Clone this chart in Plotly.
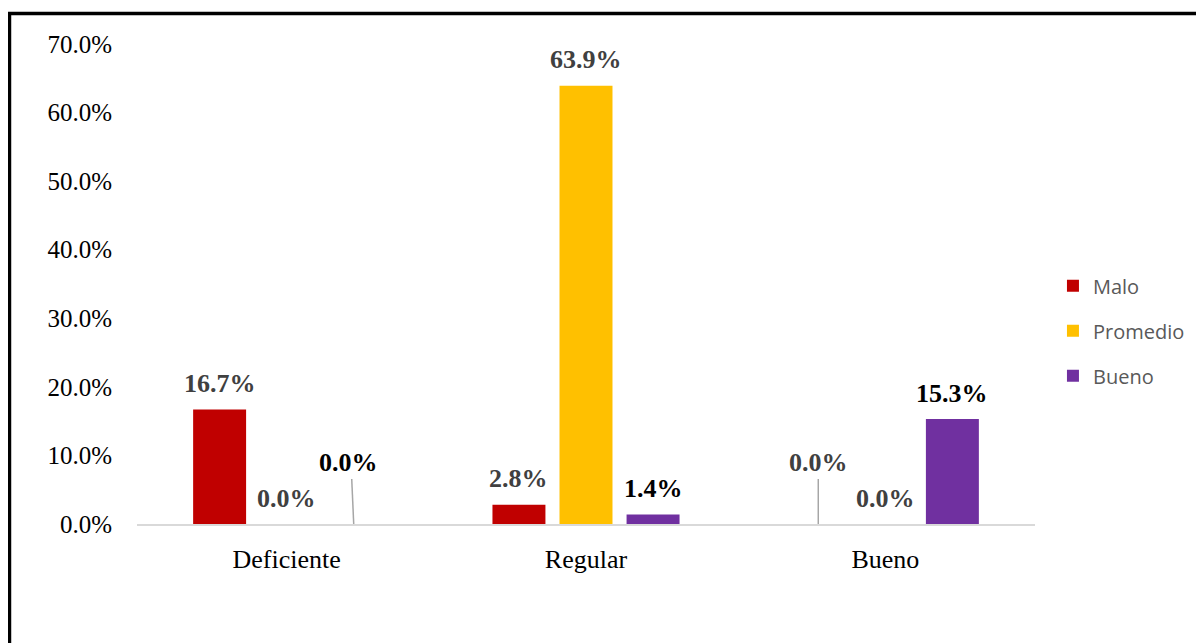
import plotly.graph_objects as go

categories = ["Deficiente", "Regular", "Bueno"]
series_names = ["Malo", "Promedio", "Bueno"]
malo = [16.7, 2.8, 0.0]
promedio = [0.0, 63.9, 0.0]
bueno = [0.0, 1.4, 15.3]
y_ticks = [0, 10, 20, 30, 40, 50, 60, 70]

colors = ["#C00000", "#FFC000", "#7030A0"]
label_colors = ["#404040", "#404040", "#000000"]
# labels pulled up with a leader line: (series index, category index)
leader_labels = {(2, 0), (0, 2)}

SERIF = "Liberation Serif, Times New Roman, serif"
BARGAP = 0.328
slot = (1 - BARGAP) / 3

fig = go.Figure()

for s, (name, vals) in enumerate(zip(series_names, [malo, promedio, bueno])):
    fig.add_trace(go.Bar(x=categories, y=vals, name=name, marker_color=colors[s],
                         marker_line_width=0, legendgroup=name))

annotations = []
shapes = []
for s, vals in enumerate([malo, promedio, bueno]):
    for c, v in enumerate(vals):
        xpos = c + (s - 1) * slot
        leader = (s, c) in leader_labels
        annotations.append(dict(x=xpos, y=v, xref="x", yref="y", text=f"<b>{v:.1f}%</b>",
                                showarrow=False, yanchor="middle", yshift=62 if leader else 26,
                                xshift=-5 if (s, c) == (2, 0) else 0,
                                font=dict(family=SERIF, size=26, color=label_colors[s])))
        if leader:
            shapes.append(dict(type="line", xref="x", yref="y", xsizemode="pixel", ysizemode="pixel",
                               xanchor=xpos, yanchor=v, x0=0, y0=0, x1=-2 if c == 0 else 0, y1=45,
                               line=dict(color="#a6a6a6", width=1.5)))

# outer frame of the chart
shapes.append(dict(type="rect", xref="paper", yref="paper", x0=-0.142, x1=1.2, y0=-0.27, y1=1.0635,
                   line=dict(color="black", width=3.5), fillcolor="rgba(0,0,0,0)", layer="above"))

# page body has an 8px margin, so the figure is a bit smaller than the window
fig.update_layout(
    width=1196, height=635,
    margin=dict(l=129, r=169, t=36, b=119),
    paper_bgcolor="white", plot_bgcolor="white",
    barmode="group", bargap=BARGAP, bargroupgap=0.21,
    showlegend=True,
    legend=dict(x=1.02, y=0.537, xanchor="left", yanchor="top",
                font=dict(family="Open Sans, sans-serif", size=20, color="#595959"),
                tracegroupgap=16, itemwidth=30, traceorder="grouped"),
    annotations=annotations,
    shapes=shapes,
)

fig.update_xaxes(showline=True, linecolor="#d9d9d9", linewidth=1.5, showgrid=False, ticks="",
                 tickfont=dict(family=SERIF, size=26, color="black"), ticklabelstandoff=11)
fig.update_yaxes(range=[0, 70], tickvals=y_ticks, ticktext=[f"{t:.1f}%" for t in y_ticks],
                 showgrid=False, zeroline=False, showline=False, ticks="",
                 tickfont=dict(family=SERIF, size=25, color="black"), ticklabelstandoff=24)

fig.write_html("out.html")
